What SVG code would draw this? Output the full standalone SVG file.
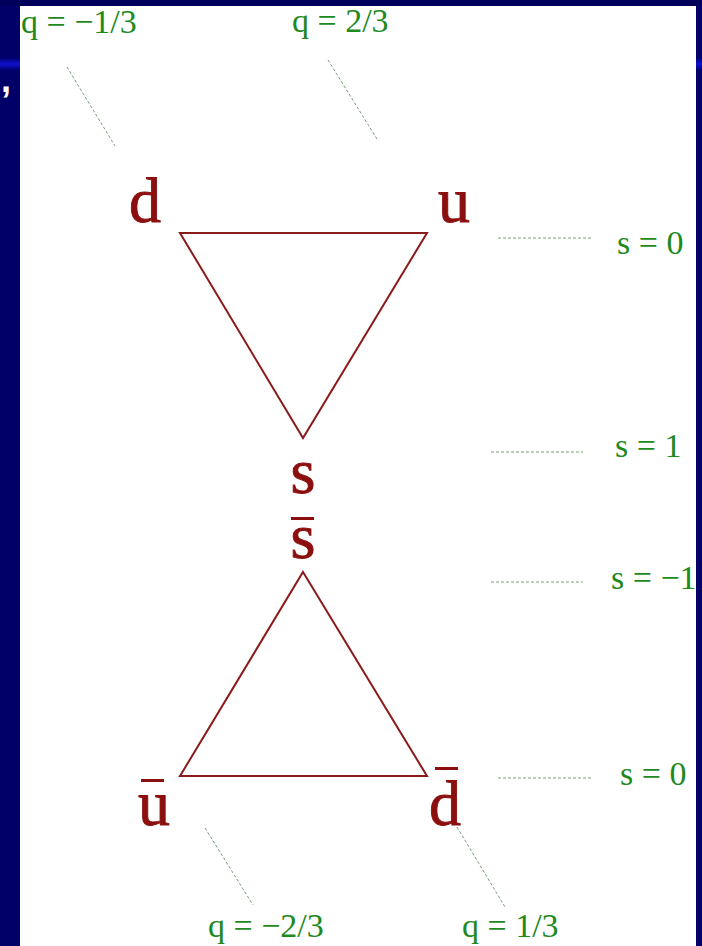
<svg xmlns="http://www.w3.org/2000/svg" width="702" height="946" viewBox="0 0 702 946">
<style>
.q{font-family:"Liberation Serif","Times New Roman",serif;font-size:34px;fill:#1e8a1e}
.n{font-family:"Liberation Serif","Times New Roman",serif;font-size:64px;fill:#8b0f0f;stroke:#8b0f0f;stroke-width:0.9}
.tri{fill:none;stroke:#8b1a1a;stroke-width:2;stroke-linejoin:miter}
.dash{stroke:#7a9e7a;stroke-width:1;stroke-dasharray:3 2;fill:none}
.bar{fill:#8b0f0f}
</style>
<defs>
<linearGradient id="band" x1="0" y1="0" x2="0" y2="1">
<stop offset="0" stop-color="#000070"/>
<stop offset="0.5" stop-color="#1010d0"/>
<stop offset="1" stop-color="#000070"/>
</linearGradient>
</defs>
<rect x="0" y="0" width="702" height="946" fill="#000068"/>
<rect x="0" y="0" width="702" height="6" fill="#00005a"/>
<rect x="0" y="58" width="20" height="12" fill="url(#band)"/>
<rect x="696" y="58" width="6" height="12" fill="url(#band)"/>
<text x="1" y="92" font-family="Liberation Sans,sans-serif" font-weight="bold" font-size="36" fill="#ffffff">,</text>
<rect x="20" y="6" width="676" height="940" fill="#ffffff"/>

<g id="connectors">
<path class="tri" d="M180,233 L427,233 L303,438 Z"/>
<path class="tri" d="M303,572 L427,776 L180,776 Z"/>
<line class="dash" x1="67" y1="67" x2="115" y2="146"/>
<line class="dash" x1="328" y1="60" x2="377" y2="139"/>
<line class="dash" x1="205" y1="828" x2="253" y2="905"/>
<line class="dash" x1="457" y1="827" x2="505" y2="907"/>
<line class="dash" x1="498" y1="238" x2="592" y2="238"/>
<line class="dash" x1="491" y1="452" x2="583" y2="452"/>
<line class="dash" x1="491" y1="582" x2="583" y2="582"/>
<line class="dash" x1="498" y1="778" x2="592" y2="778"/>
</g>

<g id="node-d"><text class="n" x="129" y="222">d</text></g>
<g id="node-u"><text class="n" x="438" y="222">u</text></g>
<g id="node-s"><text class="n" x="303" y="493" text-anchor="middle">s</text></g>
<g id="node-sbar"><rect class="bar" x="291" y="517" width="23" height="3"/><text class="n" x="303" y="558" text-anchor="middle">s</text></g>
<g id="node-ubar"><rect class="bar" x="141" y="779" width="23" height="3"/><text class="n" x="138" y="825">u</text></g>
<g id="node-dbar"><rect class="bar" x="435" y="767" width="23" height="3"/><text class="n" x="429" y="825">d</text></g>

<g id="labels">
<text class="q" x="21" y="33">q = −1/3</text>
<text class="q" x="292" y="32">q = 2/3</text>
<text class="q" x="208" y="937">q = −2/3</text>
<text class="q" x="462" y="937">q = 1/3</text>
<text class="q" x="617" y="254">s = 0</text>
<text class="q" x="615" y="457">s = 1</text>
<text class="q" x="611" y="589">s = −1</text>
<text class="q" x="620" y="785">s = 0</text>
</g>
</svg>
